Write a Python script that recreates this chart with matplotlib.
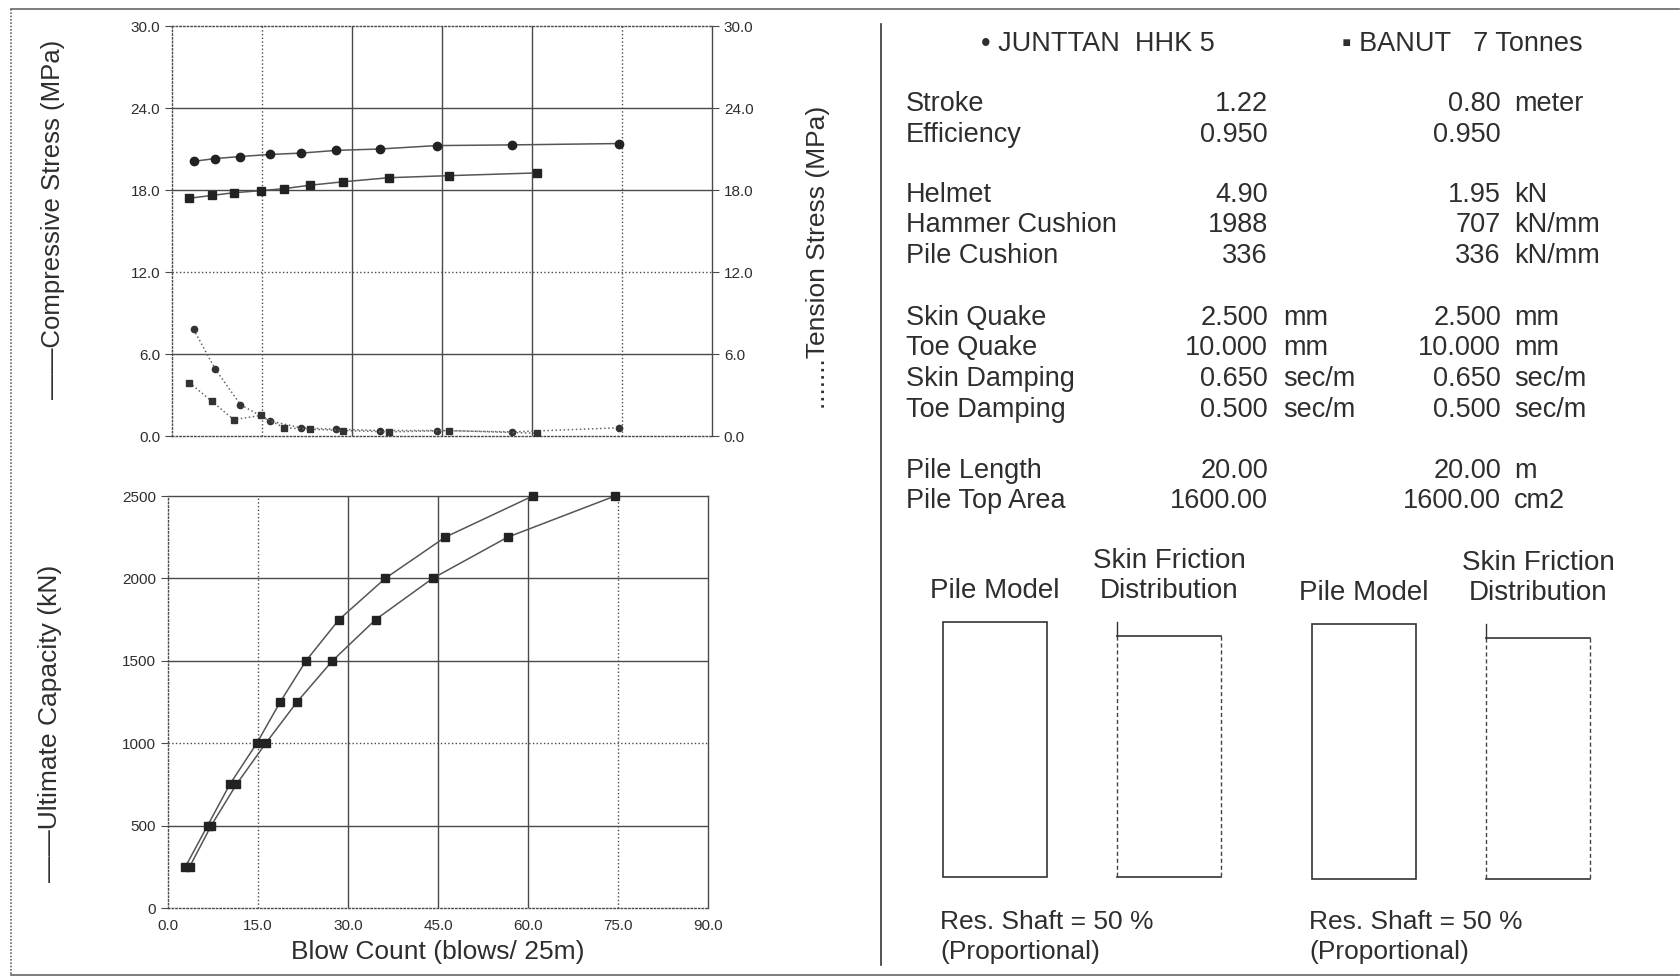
import matplotlib
matplotlib.use('Agg')
import matplotlib.pyplot as plt
from matplotlib import font_manager
from matplotlib.patches import Rectangle

names = {f.name for f in font_manager.fontManager.ttflist}
NARROW = 'Liberation Sans Narrow' if 'Liberation Sans Narrow' in names else 'Liberation Sans'
WIDE = 'Liberation Sans'

# data
blows_junttan = [3.6, 7.2, 11.4, 16.3, 21.5, 27.4, 34.6, 44.1, 56.6, 74.5]
blows_banut = [2.9, 6.6, 10.3, 14.8, 18.7, 23.0, 28.5, 36.2, 46.2, 60.8]
capacity = [250, 500, 750, 1000, 1250, 1500, 1750, 2000, 2250, 2500]
comp_junttan = [20.1, 20.3, 20.45, 20.6, 20.7, 20.9, 21.0, 21.25, 21.3, 21.4]
comp_banut = [17.4, 17.6, 17.8, 17.95, 18.1, 18.35, 18.6, 18.9, 19.05, 19.25]
tens_junttan = [7.8, 4.9, 2.3, 1.1, 0.6, 0.5, 0.4, 0.4, 0.3, 0.6]
tens_banut = [3.9, 2.55, 1.2, 1.5, 0.6, 0.5, 0.4, 0.3, 0.4, 0.2]

blow_ticks = [0, 15, 30, 45, 60, 75, 90]
stress_ticks = [0, 6, 12, 18, 24, 30]
cap_ticks = [0, 500, 1000, 1500, 2000, 2500]

param_labels = ['Stroke', 'Efficiency', 'Helmet', 'Hammer Cushion', 'Pile Cushion',
                'Skin Quake', 'Toe Quake', 'Skin Damping', 'Toe Damping',
                'Pile Length', 'Pile Top Area']
junttan_vals = ['1.22', '0.950', '4.90', '1988', '336', '2.500', '10.000',
                '0.650', '0.500', '20.00', '1600.00']
junttan_units = ['', '', '', '', '', 'mm', 'mm', 'sec/m', 'sec/m', '', '']
banut_vals = ['0.80', '0.950', '1.95', '707', '336', '2.500', '10.000',
              '0.650', '0.500', '20.00', '1600.00']
banut_units = ['meter', '', 'kN', 'kN/mm', 'kN/mm', 'mm', 'mm', 'sec/m', 'sec/m',
               'm', 'cm2']
row_y = [104, 135, 195, 225, 256, 318, 348, 379, 410, 471, 501]

W, H = 1681, 980
TXT = '#2e2e2e'
GRID = '#4a4a4a'
FS_TAB = 19.5

fig = plt.figure(figsize=(W / 100, H / 100), dpi=100)
fig.patch.set_facecolor('white')

# background canvas in pixel coordinates for free text and boxes
bg = fig.add_axes([0, 0, 1, 1])
bg.set_xlim(0, W)
bg.set_ylim(H, 0)
bg.axis('off')


def px_axes(left, top, right, bottom):
    return fig.add_axes([left / W, 1 - bottom / H, (right - left) / W, (bottom - top) / H])


def grid_lines(ax, xs, xstyles, ys, ystyles):
    for v, ls in zip(xs, xstyles):
        ax.axvline(v, color=GRID, lw=1.0, ls=ls, zorder=1)
    for v, ls in zip(ys, ystyles):
        ax.axhline(v, color=GRID, lw=1.0, ls=ls, zorder=1)


def frame(ax):
    for side, ls in [('top', ':'), ('left', ':'), ('bottom', ':'), ('right', '-')]:
        ax.spines[side].set_linestyle(ls)
        ax.spines[side].set_color(GRID)
        ax.spines[side].set_linewidth(1.0)


# ---- top: stresses
ax1 = px_axes(172, 26, 712, 436)
ax1.set_xlim(0, 90)
ax1.set_ylim(0, 30)
ax1.set_xticks(blow_ticks)
ax1.tick_params(axis='x', length=0, labelbottom=False)
ax1.set_yticks(stress_ticks)
ax1.set_yticklabels([f'{v:.1f}' for v in stress_ticks], family=NARROW, fontsize=11, color=TXT)
ax1.tick_params(axis='y', direction='out', length=5, color=GRID)
frame(ax1)
grid_lines(ax1, [15, 30, 45, 60, 75], [':', '-', '-', '-', ':'],
           [6, 12, 18, 24], ['-', ':', '-', '-'])
ax1.plot(blows_junttan, comp_junttan, '-', color='#555555', lw=1.1, marker='o', ms=6,
         mfc='#222222', mec='#222222', zorder=3)
ax1.plot(blows_banut, comp_banut, '-', color='#555555', lw=1.1, marker='s', ms=5.5,
         mfc='#222222', mec='#222222', zorder=3)

ax1b = ax1.twinx()
ax1b.set_ylim(0, 30)
ax1b.set_yticks(stress_ticks)
ax1b.set_yticklabels([f'{v:.1f}' for v in stress_ticks], family=NARROW, fontsize=11, color=TXT)
ax1b.tick_params(axis='y', direction='out', length=5, color=GRID)
for s in ax1b.spines.values():
    s.set_visible(False)
ax1b.plot(blows_junttan, tens_junttan, ':', color='#666666', lw=1.1, marker='o', ms=4.5,
          mfc='#333333', mec='#333333', zorder=3)
ax1b.plot(blows_banut, tens_banut, ':', color='#666666', lw=1.1, marker='s', ms=4.5,
          mfc='#333333', mec='#333333', zorder=3)

# ---- bottom: ultimate capacity
ax2 = px_axes(168, 496, 708, 908)
ax2.set_xlim(0, 90)
ax2.set_ylim(0, 2500)
ax2.set_xticks(blow_ticks)
ax2.set_xticklabels([f'{v:.1f}' for v in blow_ticks], family=NARROW, fontsize=11, color=TXT)
ax2.tick_params(axis='x', length=0, pad=8)
ax2.set_yticks(cap_ticks)
ax2.set_yticklabels([str(v) for v in cap_ticks], family=NARROW, fontsize=11, color=TXT)
ax2.tick_params(axis='y', direction='out', length=5, color=GRID)
frame(ax2)
ax2.spines['top'].set_linestyle('-')
grid_lines(ax2, [15, 30, 45, 60, 75], [':', '-', '-', '-', ':'],
           [500, 1000, 1500, 2000], ['-', ':', '-', '-'])
ax2.plot(blows_banut, capacity, '-', color='#555555', lw=1.1, marker='s', ms=5.5,
         mfc='#222222', mec='#222222', zorder=3, clip_on=False)
ax2.plot(blows_junttan, capacity, '-', color='#555555', lw=1.1, marker='s', ms=5.5,
         mfc='#222222', mec='#222222', zorder=3, clip_on=False)
ax2.set_xlabel('Blow Count (blows/ 25m)', family=NARROW, fontsize=19, color=TXT, labelpad=5)

# axis titles
bg.text(53, 219, '\u2014\u2014Compressive Stress (MPa)', rotation=90, ha='center', va='center',
        family=NARROW, fontsize=18.5, color=TXT)
bg.text(50, 723, '\u2014\u2014Ultimate Capacity (kN)', rotation=90, ha='center', va='center',
        family=NARROW, fontsize=19, color=TXT)
bg.text(818, 257, '.......Tension Stress (MPa)', rotation=90, ha='center', va='center',
        family=NARROW, fontsize=19, color=TXT)

# page frame and divider
bg.plot([11, W - 2], [9, 9], color='#666666', lw=1.2)
bg.plot([11, 11], [9, 975], color='#666666', lw=1.2, ls=(0, (1, 1)))
bg.plot([11, W - 2], [975, 975], color='#666666', lw=1.2)
bg.plot([881, 881], [24, 965], color='#333333', lw=1.2)

# legend
bg.text(981, 44, '\u2022 JUNTTAN  HHK 5', ha='left', va='center', family=WIDE, fontsize=19.5, color=TXT)
bg.text(1342, 44, '\u25aa BANUT   7 Tonnes', ha='left', va='center', family=WIDE, fontsize=19.5, color=TXT)

# parameter table
for lab, jv, ju, bv, bu, y in zip(param_labels, junttan_vals, junttan_units,
                                  banut_vals, banut_units, row_y):
    bg.text(906, y, lab, ha='left', va='center', family=WIDE, fontsize=FS_TAB, color=TXT)
    bg.text(1268, y, jv, ha='right', va='center', family=WIDE, fontsize=FS_TAB, color=TXT)
    if ju:
        bg.text(1283, y, ju, ha='left', va='center', family=WIDE, fontsize=FS_TAB, color=TXT)
    bg.text(1501, y, bv, ha='right', va='center', family=WIDE, fontsize=FS_TAB, color=TXT)
    if bu:
        bg.text(1514, y, bu, ha='left', va='center', family=WIDE, fontsize=FS_TAB, color=TXT)

# pile model / skin friction sketches
for x0, fx0, dy in [(943, 1117, 0), (1312, 1486, 2)]:
    bg.text(x0 + 52, 591 + dy, 'Pile Model', ha='center', va='center',
            family=NARROW, fontsize=20, color=TXT)
    bg.text(fx0 + 52, 561 + dy, 'Skin Friction', ha='center', va='center',
            family=NARROW, fontsize=20, color=TXT)
    bg.text(fx0 + 52, 591 + dy, 'Distribution', ha='center', va='center',
            family=NARROW, fontsize=20, color=TXT)
    bg.add_patch(Rectangle((x0, 622 + dy), 104, 255, fill=False, ec='#333333', lw=1.2))
    top, bot = 636 + dy, 877 + dy
    bg.plot([fx0, fx0 + 104], [top, top], color='#333333', lw=1.2)
    bg.plot([fx0, fx0 + 104], [bot, bot], color='#333333', lw=1.2)
    bg.plot([fx0, fx0], [top, bot], color='#444444', lw=1.0, ls=(0, (3, 2)))
    bg.plot([fx0 + 104, fx0 + 104], [top, bot], color='#444444', lw=1.0, ls=(0, (3, 2)))
    bg.plot([fx0, fx0], [top - 14, top], color='#333333', lw=1.0)
    bg.text(x0 - 3, 922, 'Res. Shaft = 50 %', ha='left', va='center',
            family=NARROW, fontsize=19, color=TXT)
    bg.text(x0 - 3, 952, '(Proportional)', ha='left', va='center',
            family=NARROW, fontsize=19, color=TXT)

fig.savefig('out.png', dpi=100)
